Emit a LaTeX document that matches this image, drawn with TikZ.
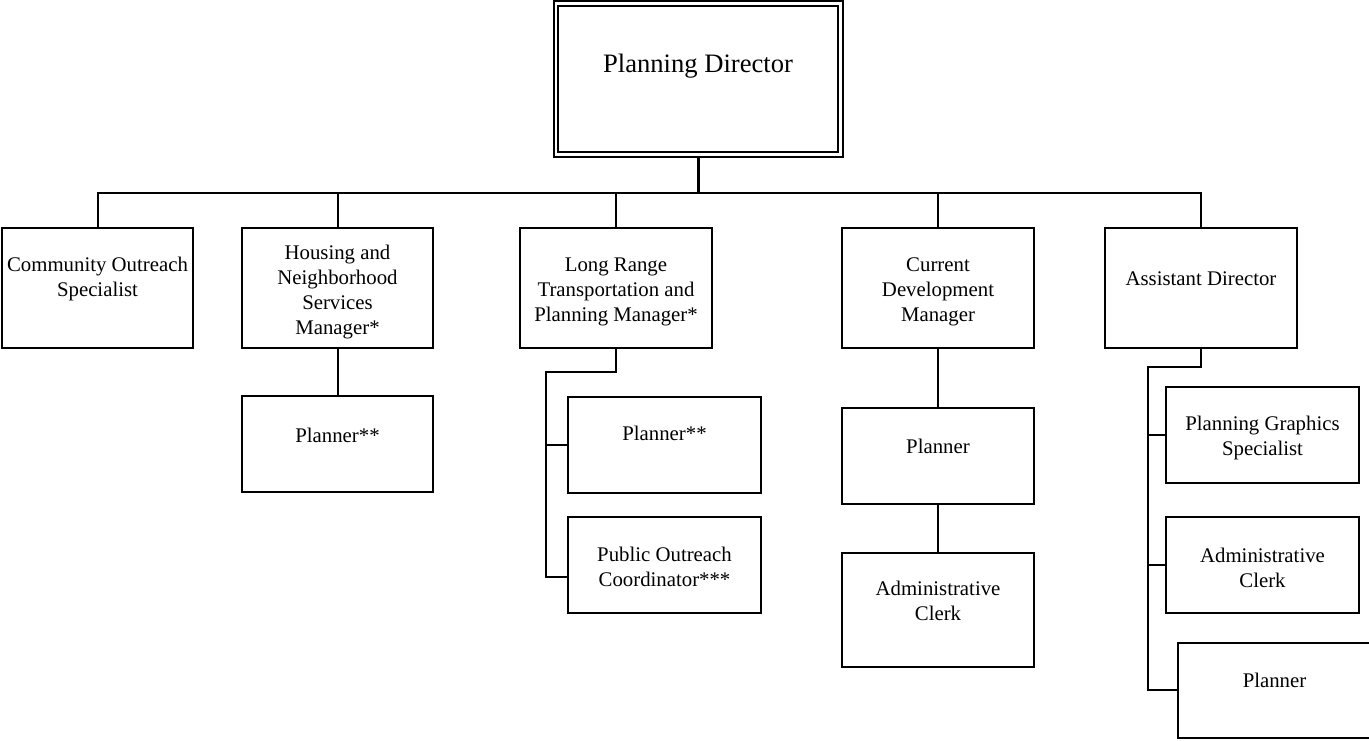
\documentclass[tikz,border=0pt]{standalone}
\usepackage{fontspec}
\setmainfont{Liberation Serif}
\begin{document}
\begin{tikzpicture}[x=0.5pt,y=-0.5pt,
  box/.style={draw,line width=1pt,inner sep=0pt,outer sep=0pt,minimum width=95.5pt,minimum height=48pt},
  topbox/.style={box,minimum height=60pt},
  txt/.style={inner sep=0pt,align=center,font=\fontsize{10.4pt}{12.5pt}\selectfont},
  conn/.style={line width=1pt}]
\useasboundingbox (0,0) rectangle (1369,740);
% director
\node[draw,line width=1pt,inner sep=0pt,outer sep=0pt,minimum width=144.5pt,minimum height=78pt] (pd) at (698.5,79) {};
\draw[line width=1pt] ([shift={(4,5)}]pd.north west) rectangle ([shift={(-5,-5)}]pd.south east);
\node[txt,font=\fontsize{13.3pt}{16pt}\selectfont] (tpd) at (698,66) {Planning Director};
% level 1
\node[topbox] (b1) at (97.5,288) {};
\node[topbox] (b2) at (337.5,288) {};
\node[topbox,minimum width=96pt] (b3) at (616,288) {};
\node[topbox,minimum width=96pt] (b4) at (938,288) {};
\node[topbox,minimum width=96pt] (b5) at (1201,288) {};
\node[txt] (t1) at (97.5,278.5) {Community Outreach\\Specialist};
\node[txt] (t2) at (337.5,292.5) {Housing and\\Neighborhood\\Services\\Manager*};
\node[txt] (t3) at (616,292) {Long Range\\Transportation and\\Planning Manager*};
\node[txt] (t4) at (938,292) {Current\\Development\\Manager};
\node[txt] (t5) at (1201,279) {Assistant Director};
% level 2
\node[box] (h1) at (337.5,444) {};
\node[box,minimum width=96.5pt] (l1) at (664.5,445) {};
\node[box,minimum width=96.5pt] (l2) at (664.5,565) {};
\node[box,minimum width=96pt] (c1) at (938,456) {};
\node[box,minimum width=96pt,minimum height=57pt] (c2) at (938,610) {};
\node[box,minimum width=96.5pt] (a1) at (1262.5,435) {};
\node[box,minimum width=96.5pt] (a2) at (1262.5,565) {};
\node[box,minimum width=96.5pt,minimum height=47.5pt] (a3) at (1274.5,690.5) {};
\node[txt] (th1) at (337.5,435) {Planner**};
\node[txt] (tl1) at (664.5,433) {Planner**};
\node[txt] (tl2) at (664.5,566.5) {Public Outreach\\Coordinator***};
\node[txt] (tc1) at (938,446) {Planner};
\node[txt] (tc2) at (938,600.5) {Administrative\\Clerk};
\node[txt] (ta1) at (1262.5,437.5) {Planning Graphics\\Specialist};
\node[txt] (ta2) at (1262.5,567.5) {Administrative\\Clerk};
\node[txt] (ta3) at (1274.5,680) {Planner};
% connectors
\coordinate (bus) at (698.5,193);
\draw[line width=1.5pt] (pd.south) -- (bus);
\draw[conn] (b1.north) |- (bus);
\draw[conn] (b5.north) |- (bus);
\draw[conn] (b2.north) -- (b2.north |- bus);
\draw[conn] (b3.north) -- (b3.north |- bus);
\draw[conn] (b4.north) -- (b4.north |- bus);
\draw[conn] (b2.south) -- (h1.north);
\coordinate (lt) at (546,372);
\coordinate (lb) at (546,577);
\draw[conn] (b3.south) |- (lt) -- (lb) -- (lb -| l2.west);
\draw[conn] (lt |- l1.west) -- (l1.west);
\draw[conn] (b4.south) -- (c1.north);
\draw[conn] (c1.south) -- (c2.north);
\coordinate (at) at (1148,367);
\coordinate (ab) at (1148,690);
\draw[line width=1.3pt] (b5.south) |- (at) -- (ab) -- (ab -| a3.west);
\draw[conn] (at |- a1.west) -- (a1.west);
\draw[conn] (at |- a2.west) -- (a2.west);
\end{tikzpicture}
\end{document}
